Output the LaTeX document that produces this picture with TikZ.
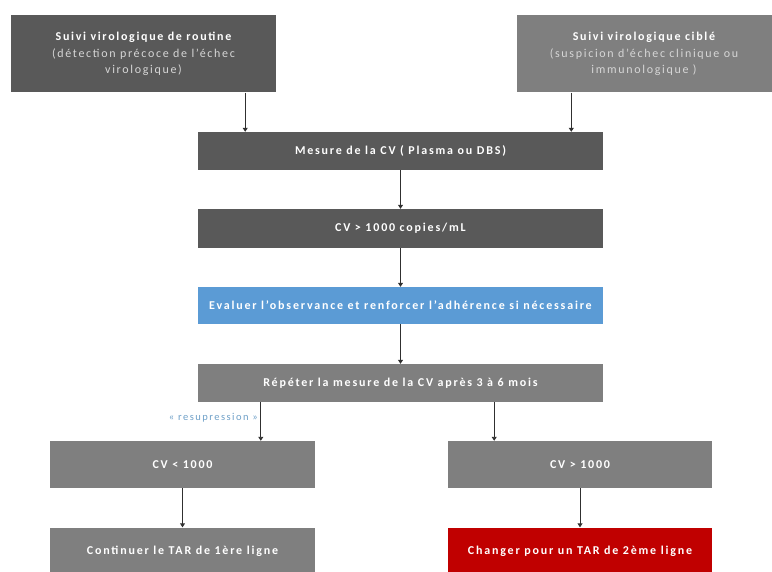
\documentclass[tikz,border=0pt]{standalone}
\usepackage{fontspec}
\setmainfont{Carlito}
\newfontfamily\spaced[LetterSpace=14]{Carlito}
\newfontfamily\spacedb[LetterSpace=15]{Carlito}
\usetikzlibrary{arrows.meta}
\definecolor{dgray}{HTML}{595959}
\definecolor{mgray}{HTML}{7F7F7F}
\definecolor{bblue}{HTML}{5B9BD5}
\definecolor{rred}{HTML}{C00000}
\definecolor{lgray}{HTML}{D6D6D6}
\definecolor{lblue}{HTML}{6FA0C8}
\definecolor{arrcol}{HTML}{303030}
\tikzset{
  x=1pt,y=-1pt,
  box/.style={rectangle, draw=none, inner sep=0pt, align=center, text=white,
     font=\spaced\fontsize{12}{16.5}\selectfont},
  sbox/.style={box, font=\spacedb\bfseries\fontsize{12}{13}\selectfont},
  arr/.style={draw=arrcol, line width=0.9pt, -{Triangle[width=5pt,length=4pt]}},
}
\begin{document}
\begin{tikzpicture}
\useasboundingbox (0,0) rectangle (772,572);
\clip (0,0) rectangle (772,572);
% top boxes
\node[box, fill=dgray, minimum width=265, minimum height=77] (b1) at (143.5,54)
  {\bfseries Suivi virologique de routine\\ \color{lgray}(détection précoce de l’échec\\ \color{lgray}virologique)};
\node[box, fill=mgray, minimum width=255, minimum height=77] (b2) at (644,54)
  {\bfseries Suivi virologique ciblé\\ \color{lgray}(suspicion d’échec clinique ou\\ \color{lgray}immunologique )};
% middle column
\node[sbox, fill=dgray, minimum width=405, minimum height=38] (b3) at (400.5,151)
  {Mesure de la CV ( Plasma ou DBS)};
\node[sbox, fill=dgray, minimum width=405, minimum height=39] (b4) at (400.5,228.5)
  {CV > 1000 copies/mL};
\node[sbox, fill=bblue, minimum width=405, minimum height=37] (b5) at (400.5,305.5)
  {Evaluer l’observance et renforcer l’adhérence si nécessaire};
\node[sbox, fill=mgray, minimum width=405, minimum height=38] (b6) at (400.5,383)
  {Répéter la mesure de la CV après 3 à 6 mois};
% lower boxes
\node[sbox, fill=mgray, minimum width=265, minimum height=47] (b7) at (182.5,464.5)
  {CV < 1000};
\node[sbox, fill=mgray, minimum width=264, minimum height=47] (b8) at (580,464.5)
  {CV > 1000};
\node[sbox, fill=mgray, minimum width=265, minimum height=47] (b9) at (182.5,551)
  {Continuer le TAR de 1ère ligne};
\node[sbox, fill=rred, minimum width=264, minimum height=47] (b10) at (580,551)
  {Changer pour un TAR de 2ème ligne};
% arrows
\coordinate (a1) at ([xshift=-31]b1.south east);
\coordinate (a2) at ([xshift=55]b2.south west);
\draw[arr] (a1) -- (a1 |- b3.north);
\draw[arr] (a2) -- (a2 |- b3.north);
\draw[arr] (b3.south) -- (b4.north);
\draw[arr] (b4.south) -- (b5.north);
\draw[arr] (b5.south) -- (b6.north);
\coordinate (a3) at ([xshift=63]b6.south west);
\coordinate (a4) at ([xshift=-109]b6.south east);
\draw[arr] (a3) -- (a3 |- b7.north);
\draw[arr] (a4) -- (a4 |- b8.north);
\draw[arr] (b7.south) -- (b9.north);
\draw[arr] (b8.south) -- (b10.north);
% label
\node[anchor=east, text=lblue, font=\fontsize{10.5}{12}\selectfont\addfontfeature{LetterSpace=14}, inner sep=0pt] (lab) at (258,418) {« resupression »};
\end{tikzpicture}
\end{document}
